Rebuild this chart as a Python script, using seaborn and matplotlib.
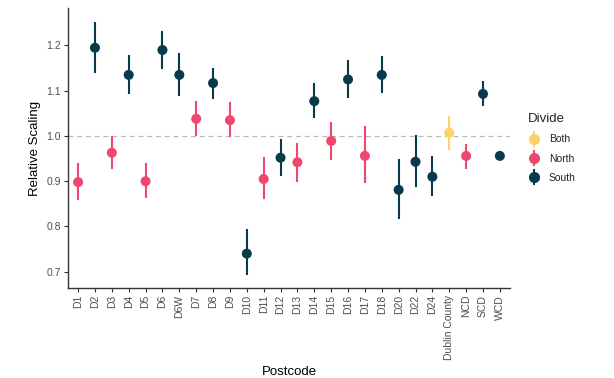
import matplotlib
matplotlib.use("Agg")
import matplotlib.pyplot as plt
from matplotlib.lines import Line2D
from matplotlib.legend_handler import HandlerTuple
import seaborn as sns
import pandas as pd

# values
postcodes = ["D1", "D2", "D3", "D4", "D5", "D6", "D6W", "D7", "D8", "D9", "D10",
             "D11", "D12", "D13", "D14", "D15", "D16", "D17", "D18", "D20", "D22",
             "D24", "Dublin County", "NCD", "SCD", "WCD"]
divide = ["North", "South", "North", "South", "North", "South", "South", "North",
          "South", "North", "South", "North", "South", "North", "South", "North",
          "South", "North", "South", "South", "South", "South", "Both", "North",
          "South", "South"]
scaling = [0.898, 1.195, 0.963, 1.135, 0.900, 1.190, 1.135, 1.038, 1.117, 1.035,
           0.740, 0.905, 0.952, 0.942, 1.077, 0.989, 1.125, 0.956, 1.135, 0.881,
           0.943, 0.910, 1.007, 0.956, 1.093, 0.956]
lower = [0.858, 1.140, 0.926, 1.093, 0.863, 1.148, 1.088, 1.000, 1.082, 0.997,
         0.692, 0.860, 0.912, 0.899, 1.039, 0.948, 1.083, 0.897, 1.094, 0.816,
         0.887, 0.867, 0.969, 0.928, 1.066, 0.947]
upper = [0.940, 1.252, 1.000, 1.179, 0.940, 1.231, 1.184, 1.077, 1.151, 1.075,
         0.794, 0.953, 0.993, 0.985, 1.117, 1.031, 1.168, 1.021, 1.177, 0.950,
         1.002, 0.956, 1.044, 0.982, 1.121, 0.965]

divide_order = ["Both", "North", "South"]
palette = {"Both": "#FFD166", "North": "#EF476F", "South": "#073B4C"}

df = pd.DataFrame({"Postcode": postcodes, "Divide": divide,
                   "Scaling": scaling, "Lower": lower, "Upper": upper})
df["pos"] = range(len(df))

sns.set_style("white")
plt.rcParams["font.family"] = ["Liberation Sans", "DejaVu Sans"]

fig = plt.figure(figsize=(6.14, 3.78), dpi=100)
ax = fig.add_axes([0.1107, 0.238, 0.7199, 0.741])

ax.axhline(1.0, color="#BBBBBB", linestyle=(0, (4, 3)), linewidth=0.9, zorder=0)

for grp in divide_order:
    sub = df[df["Divide"] == grp]
    ax.vlines(sub["pos"], sub["Lower"], sub["Upper"], color=palette[grp],
              linewidth=1.5, zorder=2)

sns.scatterplot(data=df, x="pos", y="Scaling", hue="Divide", hue_order=divide_order,
                palette=palette, s=52, edgecolor="none", legend=False, ax=ax, zorder=3)

ax.set_xlim(-0.6, len(postcodes) - 0.4)
ax.set_ylim(0.664, 1.283)
ax.set_xticks(range(len(postcodes)))
ax.set_xticklabels(postcodes, rotation=90)
ax.set_yticks([0.7, 0.8, 0.9, 1.0, 1.1, 1.2])
ax.tick_params(axis="both", which="both", direction="out", length=3, width=0.8,
               color="#333333", labelsize=7.5, labelcolor="#4D4D4D", pad=2,
               bottom=True, left=True)
ax.set_xlabel("Postcode", fontsize=9.5, color="black")
ax.set_ylabel("Relative Scaling", fontsize=9.5, color="black")

sns.despine(ax=ax)
for side in ["left", "bottom"]:
    ax.spines[side].set_color("#333333")
    ax.spines[side].set_linewidth(1.0)

handles = []
for grp in divide_order:
    bar = Line2D([], [], marker="|", markersize=12, markeredgewidth=1.5,
                 linestyle="none", color=palette[grp])
    dot = Line2D([], [], marker="o", markersize=7, linestyle="none",
                 color=palette[grp])
    handles.append((bar, dot))
leg = ax.legend(handles, divide_order, title="Divide", loc="center left",
                bbox_to_anchor=(1.02, 0.5), frameon=False, fontsize=7.5,
                title_fontsize=9.5, handler_map={tuple: HandlerTuple(ndivide=1)},
                handlelength=1.2, labelspacing=0.9, alignment="left")
for t in leg.get_texts():
    t.set_color("#222222")

fig.savefig("out.png", dpi=100)
